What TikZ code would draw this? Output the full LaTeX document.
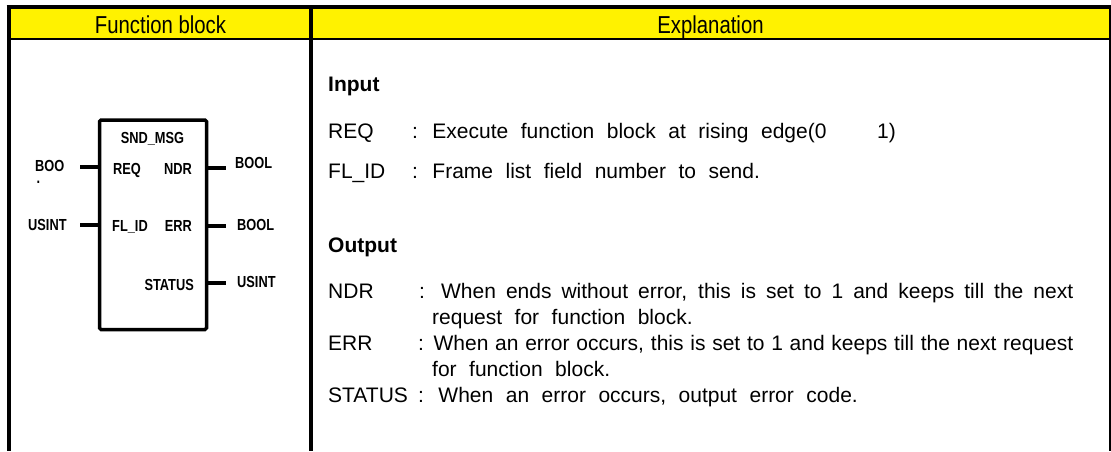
\documentclass[tikz,border=0pt]{standalone}
\usepackage{fontspec}
\setmainfont{Liberation Sans}
\newfontfamily\hdfont[FakeStretch=0.83]{Liberation Sans}
\newfontfamily\pinfont[FakeStretch=0.8]{Liberation Sans}
\newcommand\widespaces{\spaceskip=12.5pt plus 3pt minus 2pt\relax}
\begin{document}
\begin{tikzpicture}[x=1pt,y=-1pt,
  hd/.style={inner sep=0,anchor=base,font=\hdfont\fontsize{24.5}{28}\selectfont},
  body/.style={inner sep=0,anchor=base west,font=\fontsize{21}{25}\selectfont\widespaces},
  just/.style={inner sep=0,anchor=base west,font=\fontsize{21}{25}\selectfont},
  sect/.style={inner sep=0,anchor=base west,font=\bfseries\fontsize{21}{25}\selectfont},
  pinl/.style={inner sep=0,font=\pinfont\bfseries\fontsize{16}{18}\selectfont},
  pin/.style={line width=4},
  rule/.style={line width=#1}]
\useasboundingbox (0,0) rectangle (1111,451);
% header
\fill[yellow] (10,9) rectangle (1109,38);
\draw[rule=4] (6.5,7) -- (1111,7);
\draw[rule=4] (8.5,5) -- (8.5,451);
\draw[rule=3.5] (311,9) -- (311,451);
\draw[rule=2.5] (8.5,39) -- (1110,39);
\draw[rule=2] (1110,5) -- (1110,451);
\node[hd] (h1) at (160.5,33) {Function block};
\node[hd] (h2) at (710.5,33) {Explanation};
% function block
\node[draw,line width=3.5,rounded corners=1.5,inner sep=0,outer sep=0,
  minimum width=107,minimum height=209.5,anchor=north west] (fb) at (99.5,120) {};
\node[pinl,anchor=base] (title) at (152.5,143.3) {SND\_MSG};
\node[pinl,anchor=base west] (iREQ) at (113,174) {REQ};
\node[pinl,anchor=base west] (iFL) at (112,231) {FL\_ID};
\node[pinl,anchor=base east] (oNDR) at (192,174) {NDR};
\node[pinl,anchor=base east] (oERR) at (192,231) {ERR};
\node[pinl,anchor=base east] (oST) at (194,290) {STATUS};
\coordinate (pREQ) at (80,167);
\coordinate (pFL) at (80,225);
\coordinate (pNDR) at (226,168);
\coordinate (pERR) at (226,226);
\coordinate (pST) at (226,283);
\draw[pin] (pREQ) -- (pREQ -| fb.west);
\draw[pin] (pFL) -- (pFL -| fb.west);
\draw[pin] (fb.east |- pNDR) -- (pNDR);
\draw[pin] (fb.east |- pERR) -- (pERR);
\draw[pin] (fb.east |- pST) -- (pST);
\node[pinl,anchor=base west] (tBOO) at (35,171) {BOO};
\node[pinl,anchor=base west] (tdot) at (36.5,183) {.};
\node[pinl,anchor=base west] (tUS1) at (28,230) {USINT};
\node[pinl,anchor=base west] (tBL1) at (235,168) {BOOL};
\node[pinl,anchor=base west] (tBL2) at (237,230) {BOOL};
\node[pinl,anchor=base west] (tUS2) at (237,287) {USINT};
% explanation
\node[sect] (sIn) at (328,91) {Input};
\node[body] (nREQ) at (328,138) {REQ};
\node[body] (dREQ) at (412,138) {: Execute function block at rising edge(0};
\node[body] (dREQb) at (877,138) {1)};
\node[body] (nFL) at (328,178) {FL\_ID};
\node[body] (dFL) at (412,178) {: Frame list field number to send.};
\node[sect] (sOut) at (328,252) {Output};
\node[body] (nNDR) at (328,298) {NDR};
\node[just] (dNDR) at (419,298) {\makebox[654pt][s]{: When ends without error, this is set to 1 and keeps till the next}};
\node[body] (dNDRb) at (432,324) {request for function block.};
\node[body] (nERR) at (328,350) {ERR};
\node[just] (dERR) at (418,350) {\makebox[655pt][s]{: When an error occurs, this is set to 1 and keeps till the next request}};
\node[body] (dERRb) at (432,376) {for function block.};
\node[body] (nST) at (328,402) {STATUS};
\node[body] (dST) at (418,402) {: When an error occurs, output error code.};
\end{tikzpicture}
\end{document}
